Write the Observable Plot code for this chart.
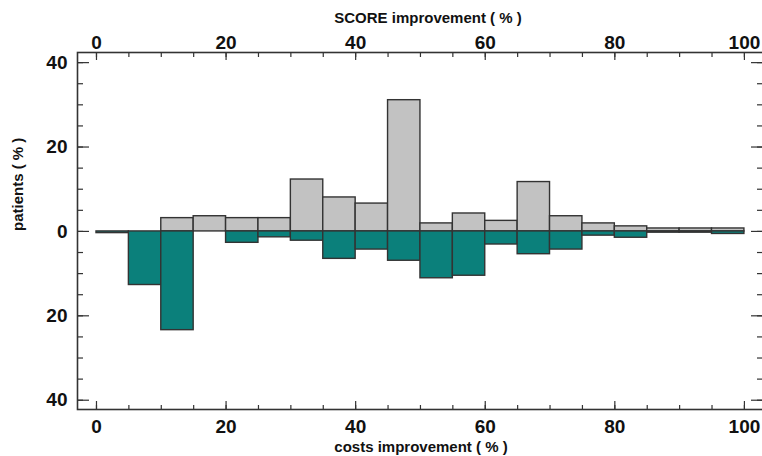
<!DOCTYPE html>
<html><head><meta charset="utf-8">
<script src="https://cdn.jsdelivr.net/npm/d3@7"></script>
<script src="https://cdn.jsdelivr.net/npm/@observablehq/plot@0.6"></script>
<style>html,body{margin:0;padding:0;overflow:hidden;background:#fff;width:762px;height:456px}</style>
</head><body><div id="chart"></div>
<script>
// bins of improvement (%), 5-unit wide
const binStart = [0,5,10,15,20,25,30,35,40,45,50,55,60,65,70,75,80,85,90,95];
const binWidth = 5;
// SCORE improvement: patients (%) – grey, upward
const scorePct = [0, 0, 3.15, 3.6, 3.15, 3.15, 12.3, 8.05, 6.6, 31.1, 1.9, 4.25, 2.5, 11.7, 3.6, 1.9, 1.2, 0.7, 0.7, 0.7];
// costs improvement: patients (%) – teal, downward
const costsPct = [0.4, 12.7, 23.4, 0, 2.7, 1.4, 2.2, 6.5, 4.3, 6.95, 11.1, 10.5, 3.1, 5.4, 4.3, 1.0, 1.5, 0.3, 0.3, 0.6];

const xMajor = [0,20,40,60,80,100];
const xMinor = [0,5,10,15,20,25,30,35,40,45,50,55,60,65,70,75,80,85,90,95,100];
const yMajor = [-40,-20,0,20,40];
const yMinor = [-40,-35,-30,-25,-20,-15,-10,-5,0,5,10,15,20,25,30,35,40];

const topTitle = "SCORE improvement ( % )";
const bottomTitle = "costs improvement ( % )";
const yTitle = "patients ( % )";

const W = 764, H = 456, mL = 77, mR = 0, mT = 52, mB = 47;
const pw = W - mL - mR, ph = H - mT - mB;

const rows = binStart.map((x0, i) => ({x1: x0, x2: x0 + binWidth, score: scorePct[i], costs: -costsPct[i]}));

const font = "'Liberation Sans', Arial, sans-serif";
const ink = "#333";

const chart = Plot.plot({
  width: W, height: H,
  marginLeft: mL, marginRight: mR, marginTop: mT, marginBottom: mB,
  style: {fontFamily: font, background: "white", color: "#111", maxWidth: "none"},
  x: {domain: [-2.93, 103.1]},
  y: {domain: [-42.2, 42.4]},
  marks: [
    Plot.rectY(rows, {x1: "x1", x2: "x2", y1: 0, y2: "score", fill: "#c2c2c2", stroke: ink, strokeWidth: 1.4}),
    Plot.rectY(rows, {x1: "x1", x2: "x2", y1: 0, y2: "costs", fill: "#0b807b", stroke: ink, strokeWidth: 1.4}),
    // bottom ticks (inward)
    Plot.tickX(xMinor, {x: d => d, insetTop: ph - 4, stroke: ink, strokeWidth: 1.2}),
    Plot.tickX(xMajor, {x: d => d, insetTop: ph - 8, stroke: ink, strokeWidth: 1.2}),
    // top ticks (inward)
    Plot.tickX(xMinor, {x: d => d, insetBottom: ph - 5, stroke: ink, strokeWidth: 1.2}),
    Plot.tickX(xMajor, {x: d => d, insetBottom: ph - 8, stroke: ink, strokeWidth: 1.2}),
    // left ticks
    Plot.tickY(yMinor, {y: d => d, insetRight: pw - 6, stroke: ink, strokeWidth: 1.2}),
    Plot.tickY(yMajor, {y: d => d, insetRight: pw - 12, stroke: ink, strokeWidth: 1.2}),
    // right ticks
    Plot.tickY(yMinor, {y: d => d, insetLeft: pw - 7, stroke: ink, strokeWidth: 1.2}),
    Plot.tickY(yMajor, {y: d => d, insetLeft: pw - 13, stroke: ink, strokeWidth: 1.2}),
    Plot.frame({stroke: ink, strokeWidth: 1.6}),
    Plot.axisX({anchor: "bottom", ticks: xMajor, tickSize: 0, tickPadding: 10, fontSize: 19, fontWeight: "bold", label: null}),
    Plot.axisX({anchor: "top", ticks: xMajor, tickSize: 0, tickPadding: 4, fontSize: 19, fontWeight: "bold", label: null}),
    Plot.axisY({anchor: "left", ticks: yMajor, tickSize: 0, tickPadding: 10, fontSize: 19, fontWeight: "bold", tickFormat: d => Math.abs(d), label: null}),
    Plot.text([topTitle], {frameAnchor: "top", dx: 7, dy: -34, lineAnchor: "middle", fontSize: 15, fontWeight: "bold", text: d => d}),
    Plot.text([bottomTitle], {frameAnchor: "bottom", dy: 38, lineAnchor: "middle", fontSize: 15, fontWeight: "bold", text: d => d}),
    Plot.text([yTitle], {frameAnchor: "left", dx: -59, rotate: -90, lineAnchor: "middle", fontSize: 15, fontWeight: "bold", text: d => d})
  ]
});
chart.style.maxWidth = "none";
document.getElementById("chart").appendChild(chart);
</script>
</body></html>
